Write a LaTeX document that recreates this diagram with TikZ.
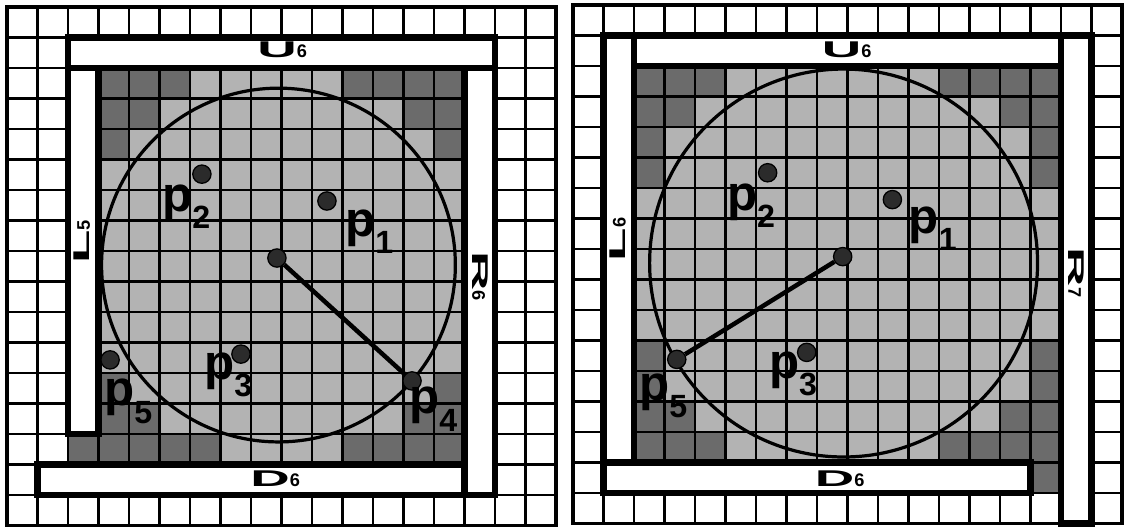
\documentclass[tikz,border=0pt]{standalone}
\usepackage{fontspec}
\setmainfont{Liberation Sans}
\usepackage{graphicx}
\definecolor{lgrey}{HTML}{B3B3B3}
\definecolor{dgrey}{HTML}{6B6B6B}
\definecolor{dotc}{HTML}{2B2B2B}
\newcommand{\plab}[1]{p\raisebox{-16pt}{\fontsize{30}{30}\selectfont #1}}
\newcommand{\wideletter}[1]{\scalebox{3}[1.25]{#1}}

\begin{document}
\begin{tikzpicture}[
  gridline/.style={line width=2.3pt},
  bar/.style={draw,fill=white,line width=6pt},
  dot/.style={circle,draw,fill=dotc,line width=1.2pt,minimum size=0.6cm,inner sep=0pt},
  plabel/.style={anchor=base west,inner sep=0pt,font=\fontsize{46}{46}\selectfont\bfseries},
  barlabel/.style={inner sep=0pt,font=\fontsize{17}{17}\selectfont\bfseries}]
  \useasboundingbox (-0.23,0.23) rectangle (36.69,-17.05);

  % left panel
  \begin{scope}
    \fill[lgrey] (3,-2) rectangle (15,-15) (2,-14) rectangle (3,-15);
    \foreach \x/\y in {3/2,4/2,5/2,3/3,4/3,3/4,11/2,12/2,13/2,14/2,13/3,14/3,14/4,
        3/12,3/13,4/13,2/14,3/14,4/14,5/14,6/14,14/12,13/13,14/13,11/14,12/14,13/14,14/14}
      \fill[dgrey] (\x,-\y) rectangle ++(1,-1);
    \draw[gridline] (0,0) grid (18,-17);
    \draw[line width=3.2pt] (0,0) rectangle (18,-17);
    \draw[bar] (2,-1) rectangle (16,-2);
    \draw[bar] (2,-2) rectangle (3,-14);
    \draw[bar] (15,-2) rectangle (16,-16);
    \draw[bar] (1,-15) rectangle (15,-16);
    \node[barlabel] (ua) at (9.02,-1.41) {\wideletter{U}6};
    \node[barlabel] (da) at (8.79,-15.48) {\wideletter{D}6};
    \node[barlabel,rotate=90] (la) at (2.46,-7.70) {\wideletter{L}5};
    \node[barlabel,rotate=-90] (ra) at (15.51,-8.82) {\wideletter{R}6};
    \draw[line width=3pt] (8.90,-8.46) circle (5.80);
    \node[dot] (ca) at (8.85,-8.23) {};
    \node[dot] (a1) at (10.49,-6.36) {};
    \node[dot] (a2) at (6.39,-5.48) {};
    \node[dot] (a3) at (7.67,-11.38) {};
    \node[dot] (a4) at (13.28,-12.26) {};
    \node[dot] (a5) at (3.38,-11.57) {};
    \draw[line width=4.2pt] (ca) -- (a4);
    \node[plabel] (ta1) at (11.08,-7.51) {\plab{1}};
    \node[plabel] (ta2) at (5.08,-6.69) {\plab{2}};
    \node[plabel] (ta3) at (6.46,-12.20) {\plab{3}};
    \node[plabel] (ta4) at (13.18,-13.34) {\plab{4}};
    \node[plabel] (ta5) at (3.18,-13.08) {\plab{5}};
  \end{scope}

  % right panel
  \begin{scope}[shift={(18.56,0.066)}]
    \fill[lgrey] (2,-2) rectangle (16,-15) (15,-15) rectangle (16,-16);
    \foreach \x/\y in {2/2,3/2,4/2,2/3,3/3,2/4,2/5,12/2,13/2,14/2,15/2,14/3,15/3,15/4,15/5,
        2/11,2/12,2/13,3/13,2/14,3/14,4/14,15/11,15/12,14/13,15/13,12/14,13/14,14/14,15/14,15/15}
      \fill[dgrey] (\x,-\y) rectangle ++(1,-1);
    \draw[gridline] (0,0) grid (18,-17);
    \draw[line width=3.2pt] (0,0) rectangle (18,-17);
    \draw[bar] (1,-1) rectangle (2,-15);
    \draw[bar] (2,-1) rectangle (16,-2);
    \draw[bar] (16,-1) rectangle (17,-17);
    \draw[bar] (1,-15) rectangle (15,-16);
    \node[barlabel] (ub) at (8.97,-1.47) {\wideletter{U}6};
    \node[barlabel] (db) at (8.74,-15.52) {\wideletter{D}6};
    \node[barlabel,rotate=90] (lb) at (1.47,-7.69) {\wideletter{L}6};
    \node[barlabel,rotate=-90] (rb) at (16.50,-8.77) {\wideletter{R}7};
    \draw[line width=3pt] (8.87,-8.46) circle (6.36);
    \node[dot] (cb) at (8.84,-8.25) {};
    \node[dot] (b1) at (10.47,-6.38) {};
    \node[dot] (b2) at (6.38,-5.50) {};
    \node[dot] (b3) at (7.66,-11.39) {};
    \node[dot] (b5) at (3.40,-11.62) {};
    \draw[line width=4.2pt] (cb) -- (b5);
    \node[plabel] (tb1) at (11.00,-7.50) {\plab{1}};
    \node[plabel] (tb2) at (5.04,-6.74) {\plab{2}};
    \node[plabel] (tb3) at (6.42,-12.24) {\plab{3}};
    \node[plabel] (tb5) at (2.16,-12.96) {\plab{5}};
  \end{scope}
\end{tikzpicture}
\end{document}
